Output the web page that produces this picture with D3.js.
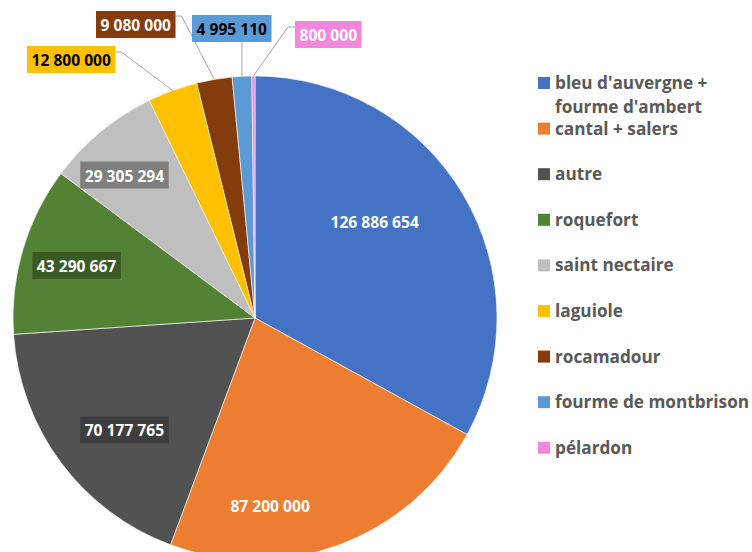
<!DOCTYPE html>
<html><head><meta charset="utf-8">
<script src="https://cdn.jsdelivr.net/npm/d3@7"></script>
<style>body{margin:0;background:#fff}svg{display:block}</style>
</head><body>
<svg id="c" width="752" height="552"></svg>
<script>
const categories = ["bleu d'auvergne + fourme d'ambert","cantal + salers","autre","roquefort","saint nectaire","laguiole","rocamadour","fourme de montbrison","pélardon"];
const legendLines = [["bleu d'auvergne +","fourme d'ambert"],["cantal + salers"],["autre"],["roquefort"],["saint nectaire"],["laguiole"],["rocamadour"],["fourme de montbrison"],["pélardon"]];
const values = [126886654, 87200000, 70177765, 43290667, 29305294, 12800000, 9080000, 4995110, 800000];
const labels = ["126 886 654","87 200 000","70 177 765","43 290 667","29 305 294","12 800 000","9 080 000","4 995 110","800 000"];
const colors = ["#4472C4","#ED7D31","#525252","#548235","#BFBFBF","#FFC000","#843C0C","#5B9BD5","#F386DD"];
const boxColors = [null,null,"#3E3E3E","#3A5A25","#7F7F7F","#FFC000","#843C0C","#5B9BD5","#F386DD"];
const textColors = ["#fff","#fff","#fff","#fff","#fff","#000","#fff","#000","#fff"];

// layout
const cx = 255, cy = 318, R = 242;
const inside = [[51,154],[175.4,188.6],[229.4,172],[286.4,186],[317.6,193.6]]; // polar deg, radius
const outside = [ // box left, top, leader type
  {x:27, y:46, side:"right", dy:6},
  {x:96, y:11, side:"right", dy:5},
  {x:192, y:15, side:"bottom"},
  {x:295, y:21, side:"left", dy:6}
];
const FONT = "'Open Sans', Lato, sans-serif";

const svg = d3.select("#c");
const pie = d3.pie().sort(null).value(d => d).startAngle(0).endAngle(2*Math.PI);
const arcs = pie(values);
const arc = d3.arc().innerRadius(0).outerRadius(R);
const g = svg.append("g").attr("transform", `translate(${cx},${cy})`);
g.selectAll("path").data(arcs).join("path")
  .attr("d", arc).attr("fill", (d,i) => colors[i])
  .attr("stroke", "#fff").attr("stroke-width", 0.6);

const lg = svg.append("g");
function addLabel(i, x, y, boxLeft, boxTop) {
  const t = lg.append("text").text(labels[i])
    .attr("font-family", FONT).attr("font-weight", 700).attr("font-size", 15.6)
    .attr("fill", textColors[i]).attr("text-anchor", "middle").attr("dominant-baseline","central");
  const w = t.node().getComputedTextLength();
  const bw = w + 9, bh = 27;
  let bx, by;
  if (boxLeft != null) { bx = boxLeft; by = boxTop; } else { bx = x - bw/2; by = y - bh/2; }
  t.attr("x", bx + bw/2).attr("y", by + bh/2 + 0.5);
  if (boxColors[i]) {
    lg.insert("rect", () => t.node()).attr("x", bx).attr("y", by).attr("width", bw).attr("height", bh).attr("fill", boxColors[i]);
  }
  return {bx, by, bw, bh};
}
arcs.forEach((a, i) => {
  if (i < inside.length) {
    const ang = inside[i][0] * Math.PI/180, r = inside[i][1];
    addLabel(i, cx + r*Math.sin(ang), cy - r*Math.cos(ang));
  } else {
    const o = outside[i - inside.length];
    const b = addLabel(i, null, null, o.x, o.y);
    const mid = (a.startAngle + a.endAngle)/2;
    const ex = cx + R*Math.sin(mid), ey = cy - R*Math.cos(mid);
    let pts;
    if (o.side === "right") pts = [[b.bx+b.bw, b.by+o.dy],[b.bx+b.bw+6, b.by+o.dy],[ex,ey]];
    else if (o.side === "left") pts = [[b.bx, b.by+o.dy],[b.bx-7, b.by+o.dy],[ex,ey]];
    else pts = [[ex, b.by+b.bh],[ex,ey]];
    svg.insert("path", () => lg.node()).attr("d", d3.line()(pts))
      .attr("fill","none").attr("stroke","#A6A6A6").attr("stroke-width",1);
  }
});

const leg = svg.append("g");
categories.forEach((c, i) => {
  const y = 77 + i*45.6;
  leg.append("rect").attr("x", 538).attr("y", y).attr("width", 12).attr("height", 12).attr("fill", colors[i]);
  const t = leg.append("text").attr("font-family", FONT).attr("font-weight", 700).attr("font-size", 17.2).attr("fill", "#595959");
  legendLines[i].forEach((ln, k) => t.append("tspan").attr("x", 555).attr("y", y + 12 + k*23.5).text(ln));
});
</script>
</body></html>
